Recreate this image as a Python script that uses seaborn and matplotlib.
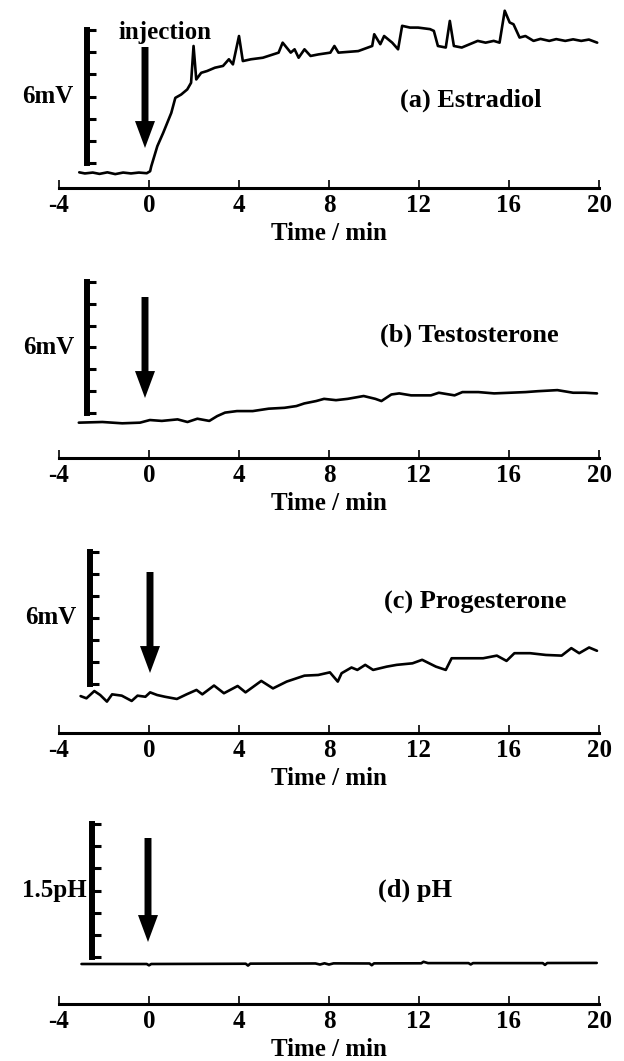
import numpy as np
import pandas as pd
import matplotlib
matplotlib.use("Agg")
import matplotlib.pyplot as plt
import seaborn as sns

# ---------------- data ----------------
estradiol_t = [-3.10, -2.85, -2.50, -2.20, -1.85, -1.50, -1.15, -0.80, -0.45, -0.10, 0.05,
               0.10, 0.37, 0.63, 0.99, 1.17, 1.43, 1.70, 1.87, 1.98, 2.10, 2.32, 2.58, 2.93,
               3.29, 3.55, 3.73, 4.00, 4.17, 4.53, 5.06, 5.76, 5.94, 6.30, 6.47, 6.65, 6.91,
               7.18, 7.53, 8.06, 8.24, 8.42, 9.30, 9.92, 10.01, 10.28, 10.45, 10.81, 11.07,
               11.25, 11.60, 11.96, 12.49, 12.66, 12.84, 13.19, 13.37, 13.55, 13.90, 14.61,
               14.96, 15.32, 15.58, 15.81, 16.03, 16.20, 16.47, 16.73, 17.09, 17.40, 17.79,
               18.10, 18.50, 18.85, 19.21, 19.55, 19.92]
estradiol_mv = [0.03, -0.02, 0.02, -0.04, 0.03, -0.05, 0.02, -0.02, 0.02, -0.01, 0.08,
                0.30, 1.21, 1.81, 2.71, 3.39, 3.54, 3.77, 4.07, 5.73, 4.22, 4.52, 4.60, 4.75,
                4.83, 5.13, 4.90, 6.18, 5.05, 5.13, 5.20, 5.43, 5.88, 5.43, 5.58, 5.20, 5.58,
                5.28, 5.35, 5.43, 5.73, 5.43, 5.50, 5.73, 6.26, 5.81, 6.18, 5.88, 5.58,
                6.64, 6.56, 6.56, 6.49, 6.41, 5.73, 5.66, 6.86, 5.73, 5.66, 5.96,
                5.88, 5.96, 5.88, 7.32, 6.79, 6.71, 6.11, 6.18, 5.96, 6.05, 5.96,
                6.04, 5.96, 6.03, 5.96, 6.02, 5.88]

testosterone_t = [-3.12, -2.07, -1.19, -0.40, 0.04, 0.57, 1.27, 1.71, 2.15, 2.68, 3.03,
                  3.38, 3.91, 4.61, 5.32, 6.02, 6.55, 6.90, 7.43, 7.78, 8.31, 8.83, 9.54,
                  10.06, 10.33, 10.77, 11.12, 11.65, 12.53, 12.88, 13.58, 13.93, 14.64,
                  15.34, 16.04, 16.74, 17.27, 18.15, 18.85, 19.38, 19.91]
testosterone_mv = [-0.03, 0.00, -0.06, -0.03, 0.09, 0.05, 0.12, 0.00, 0.15, 0.05, 0.27,
                   0.43, 0.50, 0.50, 0.61, 0.65, 0.73, 0.85, 0.96, 1.06, 1.00, 1.06, 1.19,
                   1.06, 0.96, 1.26, 1.31, 1.22, 1.22, 1.34, 1.22, 1.37, 1.37,
                   1.31, 1.34, 1.37, 1.41, 1.46, 1.34, 1.34, 1.31]

progesterone_t = [-3.04, -2.78, -2.43, -2.17, -1.87, -1.64, -1.21, -0.77, -0.51, -0.16,
                  0.05, 0.36, 0.71, 1.24, 1.67, 2.11, 2.37, 2.89, 3.33, 3.94, 4.29, 4.99,
                  5.51, 6.12, 6.91, 7.52, 8.04, 8.39, 8.56, 9.00, 9.26, 9.61, 9.96, 10.57,
                  11.01, 11.71, 12.14, 12.75, 13.19, 13.45, 14.15, 14.85, 15.46, 15.89,
                  16.24, 16.94, 17.64, 18.34, 18.77, 19.12, 19.56, 19.91]
progesterone_mv = [-0.05, -0.15, 0.18, 0.00, -0.30, 0.03, -0.03, -0.27, -0.03, -0.08,
                   0.12, 0.00, -0.08, -0.18, 0.03, 0.23, 0.03, 0.43, 0.08, 0.41, 0.12, 0.64,
                   0.30, 0.61, 0.88, 0.91, 1.03, 0.61, 0.99, 1.25, 1.14, 1.37, 1.14, 1.29,
                   1.37, 1.44, 1.60, 1.29, 1.14, 1.67, 1.67, 1.67, 1.79, 1.55,
                   1.90, 1.90, 1.82, 1.79, 2.13, 1.90, 2.16, 2.01]

ph_t = [-3.0, -0.1, 0.0, 0.1, 4.3, 4.4, 4.5, 7.4, 7.6, 7.8, 8.0, 8.2, 9.8, 9.9, 10.0,
        12.1, 12.2, 12.4, 14.2, 14.3, 14.4, 17.5, 17.6, 17.7, 19.9]
ph_val = [0.000, 0.000, -0.015, 0.000, 0.003, -0.018, 0.004, 0.006, -0.006, 0.008, -0.006,
          0.007, 0.006, -0.014, 0.007, 0.008, 0.025, 0.010, 0.010, -0.005, 0.010, 0.010,
          -0.010, 0.011, 0.012]

panel_labels = ["(a) Estradiol", "(b) Testosterone", "(c) Progesterone", "(d) pH"]
scale_labels = ["6mV", "6mV", "6mV", "1.5pH"]
scale_spans = [6.0, 6.0, 6.0, 1.5]
x_ticks = [-4, 0, 4, 8, 12, 16, 20]
x_label = "Time / min"
injection_label = "injection"

series = [(estradiol_t, estradiol_mv), (testosterone_t, testosterone_mv),
          (progesterone_t, progesterone_mv), (ph_t, ph_val)]

# ---------------- style ----------------
sns.set_style("white")
plt.rcParams["font.family"] = ["Liberation Serif", "DejaVu Serif"]
plt.rcParams["font.weight"] = "bold"
plt.rcParams["axes.labelweight"] = "bold"
plt.rcParams["axes.unicode_minus"] = False
for k in ["axes.edgecolor", "xtick.color", "ytick.color", "text.color", "axes.labelcolor"]:
    plt.rcParams[k] = "black"

W, H = 624, 1061
fig = plt.figure(figsize=(W / 100, H / 100), dpi=100)

X_LEFT, X_RIGHT = 59, 599
PX_PER_MIN = (X_RIGHT - X_LEFT) / 24.0


def t_of(px):
    return -4 + (px - X_LEFT) / PX_PER_MIN


# layout (pixel geometry of each panel)
layout = [
    dict(axis=188, base=173, top=5, bt=30, bb=163, bx=87, ax_=145, at=47, ap=148, lx=400, ly=100, pad=10),
    dict(axis=458, base=422, top=250, bt=282, bb=413, bx=87, ax_=145, at=297, ap=398, lx=380, ly=335, pad=9),
    dict(axis=733, base=695, top=525, bt=552, bb=684, bx=90, ax_=150, at=572, ap=673, lx=384, ly=602, pad=10),
    dict(axis=1004, base=964, top=800, bt=824, bb=957, bx=92, ax_=148, at=838, ap=942, lx=378, ly=890, pad=4),
]

FS = 18
for i, (g, (tx, vy)) in enumerate(zip(layout, series)):
    span = scale_spans[i]
    k = span / (g["bb"] - g["bt"])  # data units per pixel
    ax = fig.add_axes([X_LEFT / W, 1 - g["axis"] / H, (X_RIGHT - X_LEFT) / W, (g["axis"] - g["top"]) / H])
    ax.set_facecolor("none")
    df = pd.DataFrame({"t": tx, "v": vy})
    sns.lineplot(data=df, x="t", y="v", ax=ax, color="black", lw=1.9, sort=False)
    ax.set_xlim(-4, 20)
    ax.set_ylim(-(g["axis"] - g["base"]) * k, (g["base"] - g["top"]) * k)
    for s in ["left", "top", "right"]:
        ax.spines[s].set_visible(False)
    ax.spines["bottom"].set_linewidth(2.2)
    ax.set_yticks([])
    ax.set_xticks(x_ticks)
    ax.tick_params(axis="x", bottom=True, direction="in", length=6, width=1.2,
                   labelsize=FS, pad=4)
    ax.set_xlabel(x_label, fontsize=FS, labelpad=4)
    ax.set_ylabel("")

    def yv(py):
        return (g["base"] - py) * k

    # scale bar
    b0, b1 = yv(g["bb"]), yv(g["bt"])
    bax = ax.inset_axes([t_of(g["bx"]), b0, 0.5, b1 - b0], transform=ax.transData)
    bax.set_facecolor("none")
    bax.set_ylim(0, span)
    bax.set_yticks(np.linspace(0, span, 7))
    bax.set_xticks([])
    for s in ["top", "right", "bottom"]:
        bax.spines[s].set_visible(False)
    bax.spines["left"].set_linewidth(4.3)
    bax.tick_params(axis="y", left=True, direction="in", length=6.5, width=2.2, labelleft=False)
    bax.set_ylabel(scale_labels[i], rotation=0, ha="right", va="center", fontsize=FS,
                   labelpad=g["pad"])

    # injection arrow
    ax.annotate("", xy=(t_of(g["ax_"]), yv(g["ap"])), xytext=(t_of(g["ax_"]), yv(g["at"])),
                arrowprops=dict(arrowstyle="simple,head_length=0.97,head_width=0.72,tail_width=0.25",
                                fc="black", ec="none", mutation_scale=20, shrinkA=0, shrinkB=0))
    if i == 0:
        ax.text(t_of(165), yv(33), injection_label, ha="center", va="center", fontsize=FS)

    ax.text(t_of(g["lx"]), yv(g["ly"]), panel_labels[i], ha="left", va="center", fontsize=FS + 1)

fig.savefig("out.png", dpi=100)
